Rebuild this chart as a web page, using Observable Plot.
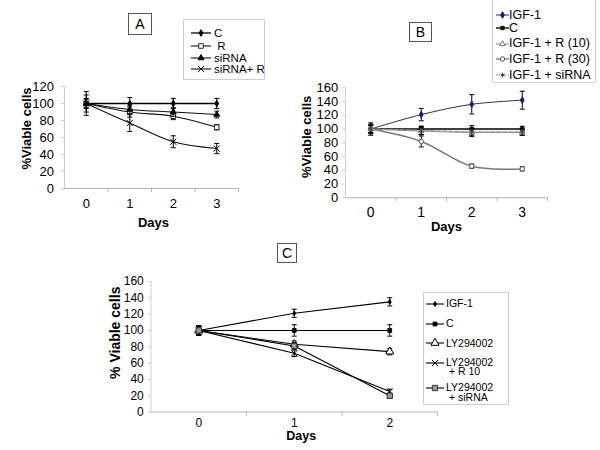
<!DOCTYPE html>
<html>
<head>
<meta charset="utf-8">
<script src="https://cdn.jsdelivr.net/npm/d3@7"></script>
<script src="https://cdn.jsdelivr.net/npm/@observablehq/plot@0.6"></script>
<style>
  body { margin: 0; background: #fff; font-family: "Liberation Sans", Arial, sans-serif; }
  #root { position: relative; width: 600px; height: 450px; overflow: hidden; background: #fff; }
  .plabel { position: absolute; border: 1px solid #555; box-sizing: border-box; text-align: center; background: #fff; color: #000; }
  .legend { position: absolute; border: 1px solid #cfcfcf; box-sizing: border-box; background: #fff; }
  .ltxt { position: absolute; white-space: pre; color: #000; }
  .lsw { position: absolute; transform: translateY(-50%); overflow: visible; }
</style>
</head>
<body>
<div id="root"></div>
<script>
// ---------------- DATA ----------------
// Panel A (days 0-3)
const daysA = [0, 1, 2, 3];
const seriesNamesA = ["C", " R", "siRNA", "siRNA+ R"];
const a_C        = [100, 100, 100, 100];
const a_C_err    = [6, 7, 6, 6];
const a_R        = [100, 90, 85, 72];
const a_R_err    = [10, 6, 4, 3];
const a_si       = [100, 93, 90, 87];
const a_si_err   = [5, 5, 5, 4];
const a_siR      = [100, 77, 55, 47];
const a_siR_err  = [14, 10, 7, 6];

// Panel B (days 0-3)
const daysB = [0, 1, 2, 3];
const seriesNamesB = ["IGF-1", "C", "IGF-1 + R (10)", "IGF-1 + R (30)", "IGF-1 + siRNA"];
const b_IGF      = [100, 121, 136, 142];
const b_IGF_err  = [7, 9, 14, 13];
const b_C        = [100, 100, 100, 100];
const b_C_err    = [5, 4, 5, 4];
const b_R10      = [100, 97, 95, 95];
const b_R10_err  = [9, 5, 6, 4];
const b_R30      = [100, 82, 46, 42];
const b_R30_err  = [6, 8, 3, 3];
const b_si       = [100, 98, 96, 96];
const b_si_err   = [5, 6, 5, 5];

// Panel C (days 0-2)
const daysC = [0, 1, 2];
const seriesNamesC = ["IGF-1", "C", "LY294002", "LY294002\n + R 10", "LY294002\n + siRNA"];
const c_IGF      = [100, 121, 135];
const c_IGF_err  = [6, 5, 5];
const c_C        = [100, 100, 100];
const c_C_err    = [5, 7, 7];
const c_LY       = [100, 83, 74];
const c_LY_err   = [6, 4, 4];
const c_LYR      = [100, 72, 25];
const c_LYR_err  = [5, 4, 3];
const c_LYsi     = [100, 81, 20];
const c_LYsi_err = [5, 4, 3];

const yTicksA = [0, 20, 40, 60, 80, 100, 120];
const yTicksB = [0, 20, 40, 60, 80, 100, 120, 140, 160];
const yTicksC = [0, 20, 40, 60, 80, 100, 120, 140, 160];
const axisTitleX = "Days";
const axisTitleA = "%Viable cells";
const axisTitleB = "%Viable cells";
const axisTitleC = "% Viable cells";
// --------------------------------------

const FONT = "'Liberation Sans', Arial, Helvetica, sans-serif";
const SYM = {diamond: d3.symbolDiamond, square: d3.symbolSquare, triangle: d3.symbolTriangle,
             times: d3.symbolTimes, circle: d3.symbolCircle, asterisk: d3.symbolAsterisk};
const cap = {draw(ctx, size) { const r = Math.sqrt(size / Math.PI); ctx.moveTo(-r, 0); ctx.lineTo(r, 0); }};

function mk(name, values, errors, style) { return {name, values, errors, ...style}; }

const seriesA = [
  mk(seriesNamesA[0], a_C, a_C_err,     {symbol: "diamond",  r: 2.0, fill: "#000", mstroke: "#000", line: "#000", lw: 1.4}),
  mk(seriesNamesA[1], a_R, a_R_err,     {symbol: "square",   r: 2.6, fill: "#fff", mstroke: "#222", line: "#111", lw: 1.1}),
  mk(seriesNamesA[2], a_si, a_si_err,   {symbol: "triangle", r: 2.2, fill: "#000", mstroke: "#000", line: "#111", lw: 1.1}),
  mk(seriesNamesA[3], a_siR, a_siR_err, {symbol: "times",    r: 2.9, fill: "none", mstroke: "#000", line: "#111", lw: 1.1})
];
const seriesB = [
  mk(seriesNamesB[0], b_IGF, b_IGF_err, {symbol: "diamond",  r: 2.0, fill: "#1b1b78", mstroke: "#1b1b78", line: "#333", lw: 1}),
  mk(seriesNamesB[1], b_C, b_C_err,     {symbol: "square",   r: 1.9, fill: "#111", mstroke: "#111", line: "#000", lw: 1.6}),
  mk(seriesNamesB[2], b_R10, b_R10_err, {symbol: "triangle", r: 2.1, fill: "#fff", mstroke: "#777", line: "#888", lw: 1}),
  mk(seriesNamesB[3], b_R30, b_R30_err, {symbol: "circle",   r: 2.2, fill: "#fff", mstroke: "#555", line: "#777", lw: 1.5}),
  mk(seriesNamesB[4], b_si, b_si_err,   {symbol: "asterisk", r: 2.2, fill: "none", mstroke: "#444", line: "#999", lw: 1.2, dash: "4,2"})
];
const seriesC = [
  mk(seriesNamesC[0], c_IGF, c_IGF_err,   {symbol: "diamond",  r: 1.5, fill: "#000", mstroke: "#000", line: "#000", lw: 1.1}),
  mk(seriesNamesC[1], c_C, c_C_err,       {symbol: "square",   r: 2.1, fill: "#000", mstroke: "#000", line: "#000", lw: 1.1}),
  mk(seriesNamesC[2], c_LY, c_LY_err,     {symbol: "triangle", r: 3.0, fill: "#fff", mstroke: "#000", line: "#000", lw: 1.1}),
  mk(seriesNamesC[3], c_LYR, c_LYR_err,   {symbol: "times",    r: 2.9, fill: "none", mstroke: "#000", line: "#000", lw: 1.1}),
  mk(seriesNamesC[4], c_LYsi, c_LYsi_err, {symbol: "square",   r: 3.0, fill: "#999", mstroke: "#333", line: "#000", lw: 1.1})
];

function panel(o) {
  const x0 = d3.min(o.days) - 0.5, x1 = d3.max(o.days) + 0.5;
  const marks = [
    Plot.ruleX([x0], {stroke: "#cfcfcf"}),
    Plot.ruleY([0], {stroke: "#b5b5b5"}),
    Plot.axisY({ticks: o.yTicks, tickSize: 3, tickPadding: o.yPad, stroke: "#cfcfcf", fill: "#000",
                fontSize: o.fsY || o.fs, label: null, tickFormat: d3.format("d")}),
    Plot.axisX({ticks: o.days, tickSize: 0, tickPadding: o.xPad, fill: "#000", fontSize: o.fs, label: null,
                tickFormat: d3.format("d")}),
    Plot.axisX({ticks: o.days.map(d => d + 0.5), tickSize: 4, tickFormat: () => "", stroke: "#b5b5b5", label: null}),
    Plot.text([axisTitleX], {frameAnchor: "bottom", dx: o.daysDx, dy: o.daysDy, text: d => d,
                             fontWeight: "bold", fontSize: o.tfsX, textAnchor: "middle", lineAnchor: "middle", fill: "#000"}),
    Plot.text([o.ytitle], {frameAnchor: "left", dx: o.titleDx, dy: o.titleDy, rotate: -90, text: d => d,
                           fontWeight: "bold", fontSize: o.tfsY, textAnchor: "middle", lineAnchor: "middle", fill: "#000"})
  ];
  for (const s of o.series) {
    const rows = o.days.map((d, i) => ({day: d, v: s.values[i], e: s.errors[i]}));
    marks.push(Plot.line(rows, {x: "day", y: "v", stroke: s.line, strokeWidth: s.lw, curve: o.curve,
                                strokeDasharray: s.dash || null}));
    marks.push(Plot.ruleX(rows, {x: "day", y1: d => d.v - d.e, y2: d => d.v + d.e, stroke: "#000", strokeWidth: 1}));
    marks.push(Plot.dot(rows, {x: "day", y: d => d.v + d.e, symbol: cap, r: 2.5, stroke: "#000", strokeWidth: 1}));
    marks.push(Plot.dot(rows, {x: "day", y: d => d.v - d.e, symbol: cap, r: 2.5, stroke: "#000", strokeWidth: 1}));
    marks.push(Plot.dot(rows, {x: "day", y: "v", symbol: s.symbol, r: s.r, fill: s.fill, stroke: s.mstroke, strokeWidth: 1}));
  }
  const svg = Plot.plot({
    width: o.width, height: o.height,
    marginLeft: o.ml, marginRight: o.mr, marginTop: o.mt, marginBottom: o.mb,
    x: {domain: [x0, x1], label: null},
    y: {domain: [0, d3.max(o.yTicks)], label: null},
    style: {fontFamily: FONT, background: "transparent", overflow: "visible", color: "#000"},
    marks
  });
  svg.style.position = "absolute";
  svg.style.left = o.left + "px";
  svg.style.top = o.top + "px";
  return svg;
}

function swatch(s, w) {
  const h = 12;
  const svg = d3.create("svg").attr("width", w).attr("height", h).attr("class", "lsw");
  svg.append("line").attr("x1", 0).attr("x2", w).attr("y1", h / 2).attr("y2", h / 2)
     .attr("stroke", s.line).attr("stroke-width", Math.min(s.lw, 1.3)).attr("stroke-dasharray", s.dash || null);
  svg.append("path").attr("transform", `translate(${w / 2},${h / 2})`)
     .attr("d", d3.symbol(SYM[s.symbol], s.r * s.r * Math.PI)())
     .attr("fill", s.fill).attr("stroke", s.mstroke).attr("stroke-width", 1);
  return svg.node();
}

function legend(root, o) {
  const box = document.createElement("div");
  box.className = "legend";
  Object.assign(box.style, {left: o.left + "px", top: o.top + "px", width: o.width + "px", height: o.height + "px"});
  o.series.forEach((s, i) => {
    const y = o.ys[i];
    const sw = swatch(s, o.swW);
    sw.style.left = o.swX + "px"; sw.style.top = y + "px";
    box.appendChild(sw);
    // one text element per entry; wrapped entries use a tight line height
    const t = document.createElement("div");
    t.className = "ltxt";
    t.textContent = s.name;
    Object.assign(t.style, {left: o.txtX + "px", top: (y - o.lh / 2) + "px", fontSize: o.fs + "px",
                            lineHeight: o.lh + "px"});
    box.appendChild(t);
  });
  root.appendChild(box);
}

function plabel(root, txt, left, top, w, h, fs) {
  const d = document.createElement("div");
  d.className = "plabel";
  d.textContent = txt;
  Object.assign(d.style, {left: left + "px", top: top + "px", width: w + "px", height: h + "px",
                          fontSize: fs + "px", lineHeight: (h - 2) + "px"});
  root.appendChild(d);
}

const root = document.getElementById("root");

root.appendChild(panel({
  days: daysA, series: seriesA, yTicks: yTicksA, ytitle: axisTitleA,
  left: 0, top: 70, width: 250, height: 170, ml: 64, mr: 12, mt: 16, mb: 52,
  fs: 13, tfsX: 13, tfsY: 13, yPad: 7.5, xPad: 10, daysDx: 2, daysDy: 34, titleDx: -37.3, titleDy: -9,
  curve: "catmull-rom"
}));
root.appendChild(panel({
  days: daysB, series: seriesB, yTicks: yTicksB, ytitle: axisTitleB,
  left: 295, top: 70, width: 265, height: 170, ml: 50, mr: 13, mt: 17.3, mb: 42.7,
  fs: 14, fsY: 13, tfsX: 13, tfsY: 13, yPad: 4.3, xPad: 9.2, daysDx: 0, daysDy: 28.7, titleDx: -38.3, titleDy: -6,
  curve: "catmull-rom"
}));
root.appendChild(panel({
  days: daysC, series: seriesC, yTicks: yTicksC, ytitle: axisTitleC,
  left: 90, top: 270, width: 360, height: 180, ml: 60.5, mr: 13, mt: 11, mb: 38.5,
  fs: 12, tfsX: 12.5, tfsY: 14, yPad: 4.2, xPad: 6, daysDx: 7, daysDy: 23.5, titleDx: -35.5, titleDy: -14,
  curve: "linear"
}));

legend(root, {series: seriesA, left: 183, top: 19, width: 82, height: 61, ys: [13.3, 26, 38.3, 49.3],
              swX: 7, swW: 20, txtX: 30, fs: 11.5, lh: 12});
legend(root, {series: seriesB, left: 492, top: -1, width: 104, height: 84, ys: [15, 28.3, 43.7, 59.3, 75],
              swX: 3, swW: 13, txtX: 16, fs: 12.5, lh: 13});
legend(root, {series: seriesC, left: 423, top: 292, width: 86, height: 113, ys: [10.7, 30.7, 50.3, 69.5, 95],
              swX: 2, swW: 18, txtX: 22, fs: 10.5, lh: 9.5});

plabel(root, "A", 128, 13, 24, 22, 14);
plabel(root, "B", 409, 22, 23, 20, 14);
plabel(root, "C", 277, 243, 20, 20, 14);
</script>
</body>
</html>
